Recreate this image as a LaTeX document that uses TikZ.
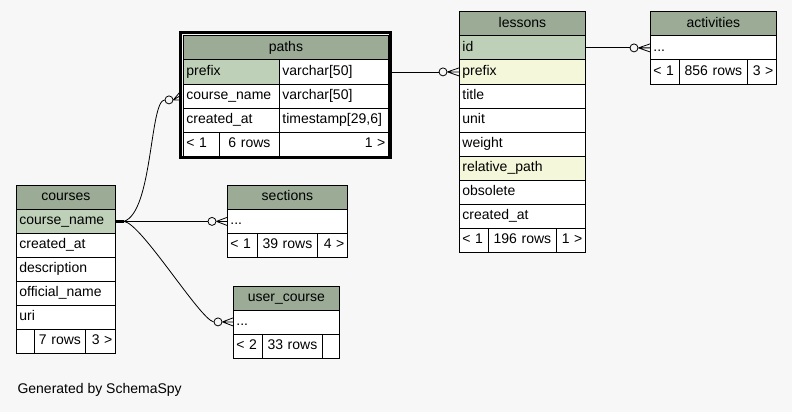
\documentclass[tikz,border=0pt]{standalone}
\usepackage{fontspec}
\setmainfont{Liberation Sans}
\definecolor{bgcol}{HTML}{F7F7F7}
\definecolor{headcol}{HTML}{9BAB96}
\definecolor{pkcol}{HTML}{BED1B8}
\definecolor{idxcol}{HTML}{F4F7DA}
\tikzset{
  cell/.style={draw, fill=white, rectangle, anchor=north west, inner xsep=3pt, inner ysep=0pt,
    minimum height=24pt, text height=10pt, text depth=3pt, align=left, line width=0.8pt,
    font=\fontsize{14}{15}\selectfont},
  head/.style={cell, fill=headcol, align=center},
  pk/.style={cell, fill=pkcol},
  idx/.style={cell, fill=idxcol},
  fkcircle/.style={circle, draw, fill=bgcol, minimum size=8pt, inner sep=0pt, line width=0.8pt},
  link/.style={line width=0.8pt},
}
\begin{document}
\begin{tikzpicture}[x=1pt,y=-1pt]
    \fill[bgcol] (0,0) rectangle (792,412);
    \useasboundingbox (0,0) rectangle (792,412);
    % paths
    \node[head, text width=199pt] (paths-head) at (183,35.5) {paths};
    \node[pk, text width=90pt] (paths-prefix) at (183,59.5) {prefix};
    \node[cell, text width=103pt] (paths-prefix-t) at (279,59.5) {varchar[50]};
    \node[cell, text width=90pt] (paths-cname) at (183,83.5) {course\_name};
    \node[cell, text width=103pt] (paths-cname-t) at (279,83.5) {varchar[50]};
    \node[cell, text width=90pt] (paths-created) at (183,107.5) {created\_at};
    \node[cell, text width=103pt] (paths-created-t) at (279,107.5) {timestamp[29,6]};
    \node[cell, text width=30pt] (paths-f1) at (183,131.5) {< 1};
    \node[cell, text width=54pt, align=center] (paths-f2) at (219,131.5) {6 rows};
    \node[cell, text width=103pt, align=right] (paths-f3) at (279,131.5) {1 >};
    \draw[line width=3pt] (180.5,33) rectangle (390.5,157);
    % lessons
    \node[head, text width=120pt] (lessons-head) at (459,11.5) {lessons};
    \node[pk, text width=120pt] (lessons-id) at (459,35.5) {id};
    \node[idx, text width=120pt] (lessons-prefix) at (459,59.5) {prefix};
    \foreach \txt [count=\i] in {title,unit,weight}
        \node[cell, text width=120pt] (lessons-r\i) at (459,59.5+24*\i) {\txt};
    \node[idx, text width=120pt] (lessons-relpath) at (459,155.5) {relative\_path};
    \node[cell, text width=120pt] (lessons-obsolete) at (459,179.5) {obsolete};
    \node[cell, text width=120pt] (lessons-created) at (459,203.5) {created\_at};
    \node[cell, text width=23pt] (lessons-f1) at (459,227.5) {< 1};
    \node[cell, text width=62pt, align=center] (lessons-f2) at (488,227.5) {196 rows};
    \node[cell, text width=23pt, align=right] (lessons-f3) at (556,227.5) {1 >};
    % activities
    \node[head, text width=120pt] (activities-head) at (650,11.5) {activities};
    \node[cell, text width=120pt] (activities-dots) at (650,35.5) {...};
    \node[cell, text width=23pt] (activities-f1) at (650,59.5) {< 1};
    \node[cell, text width=62pt, align=center] (activities-f2) at (679,59.5) {856 rows};
    \node[cell, text width=23pt, align=right] (activities-f3) at (747,59.5) {3 >};
    % courses
    \node[head, text width=93pt] (courses-head) at (16,185) {courses};
    \node[pk, text width=93pt] (courses-cname) at (16,209) {course\_name};
    \foreach \txt [count=\i] in {created\_at,description,official\_name,uri}
        \node[cell, text width=93pt] (courses-r\i) at (16,209+24*\i) {\txt};
    \node[cell, text width=12pt] (courses-f1) at (16,329) {};
    \node[cell, text width=45pt, align=center] (courses-f2) at (34,329) {7 rows};
    \node[cell, text width=24pt, align=right] (courses-f3) at (85,329) {3 >};
    % sections
    \node[head, text width=114pt] (sections-head) at (227,185) {sections};
    \node[cell, text width=114pt] (sections-dots) at (227,209) {...};
    \node[cell, text width=24pt] (sections-f1) at (227,233) {< 1};
    \node[cell, text width=54pt, align=center] (sections-f2) at (257,233) {39 rows};
    \node[cell, text width=24pt, align=right] (sections-f3) at (317,233) {4 >};
    % user_course
    \node[head, text width=100pt] (usercourse-head) at (233,285.5) {user\_course};
    \node[cell, text width=100pt] (usercourse-dots) at (233,309.5) {...};
    \node[cell, text width=23pt] (usercourse-f1) at (233,333.5) {< 2};
    \node[cell, text width=54pt, align=center] (usercourse-f2) at (262,333.5) {33 rows};
    \node[cell, text width=11pt] (usercourse-f3) at (322,333.5) {};
    % relations
    \node[fkcircle] (les-o) at ([xshift=-16pt]lessons-prefix.west) {};
    \node[fkcircle] (act-o) at ([xshift=-16pt]activities-dots.west) {};
    \node[fkcircle] (sec-o) at ([xshift=-15pt]sections-dots.west) {};
    \node[fkcircle] (uc-o) at ([xshift=-15pt]usercourse-dots.west) {};
    \node[fkcircle] (paths-o) at ([xshift=-14pt,yshift=-4pt]paths-cname.west) {};
    \coordinate (paths-in) at ([xshift=-3pt]paths-cname.west);
    \coordinate (crs-one) at ([xshift=8pt]courses-cname.east);
    \draw[link] (paths-prefix-t.east) -- (les-o);
    \draw[link] (lessons-id.east) -- (act-o);
    \draw[line width=2.5pt] (courses-cname.east) -- (crs-one);
    \draw[link] (crs-one) -- (sec-o);
    \draw[link] (crs-one) .. controls +(29,-9) and +(-15,1) .. (paths-o.west);
    \draw[link] (crs-one) .. controls +(17,1) and +(-14,-3) .. (uc-o.west);
    \foreach \o/\t in {les-o/lessons-prefix.west, act-o/activities-dots.west, sec-o/sections-dots.west, uc-o/usercourse-dots.west, paths-o/paths-in}
        \draw[link] (\o.east) -- (\t) (\o.east) -- ([yshift=4pt]\t) (\o.east) -- ([yshift=-4pt]\t);
    \node[anchor=west, font=\fontsize{14}{15}\selectfont] (credit) at (14,390) {Generated by SchemaSpy};
\end{tikzpicture}
\end{document}
